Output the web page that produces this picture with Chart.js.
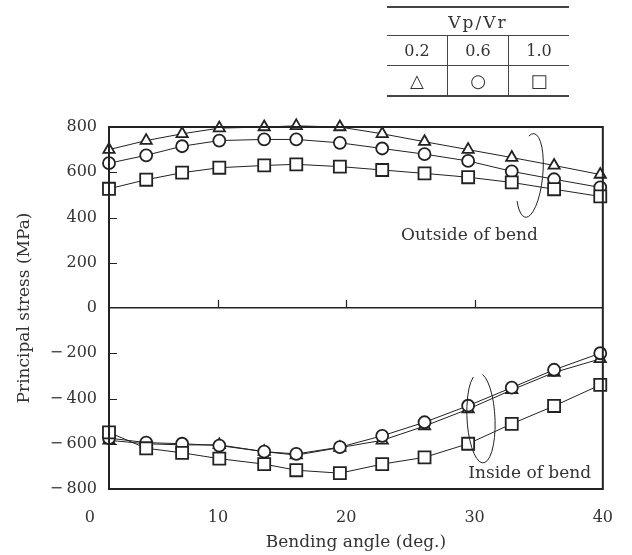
<!DOCTYPE html>
<html>
<head>
<meta charset="utf-8">
<script src="https://cdn.jsdelivr.net/npm/chart.js@4/dist/chart.umd.min.js"></script>
<style>
html,body{margin:0;padding:0;background:#fff;}
#wrap{position:relative;width:632px;height:555px;overflow:hidden;}
#c{position:absolute;left:0;top:0;}
table.leg{position:absolute;left:387px;top:6px;border-collapse:collapse;font-family:"DejaVu Serif",serif;font-size:16px;color:#333;border-top:2px solid #444;border-bottom:2px solid #444;}
table.leg th{font-weight:normal;height:27px;padding:0;border-bottom:1px solid #444;text-align:center;letter-spacing:2px;font-size:17px;}
table.leg td{width:60px;height:29px;padding:0;text-align:center;border-bottom:1px solid #444;}
table.leg td + td{border-left:1px solid #444;}
table.leg tr:last-child td{border-bottom:none;}
table.leg .sym{font-family:"DejaVu Sans",sans-serif;font-size:18px;line-height:1;}
</style>
</head>
<body>
<div id="wrap">
<canvas id="c" width="632" height="555"></canvas>
<table class="leg">
<tr><th colspan="3">Vp/Vr</th></tr>
<tr><td>0.2</td><td>0.6</td><td>1.0</td></tr>
<tr><td class="sym">△</td><td class="sym">○</td><td class="sym">□</td></tr>
</table>
</div>
<script>
// ---- data ----
const angles = [1.5, 4.4, 7.2, 10.1, 13.6, 16.1, 19.5, 22.8, 26.1, 29.5, 32.9, 36.2, 39.8];
// Outside of bend
const outside02 = [700, 740, 770, 795, 800, 805, 800, 770, 735, 700, 665, 630, 590];
const outside06 = [640, 675, 715, 740, 745, 745, 730, 705, 680, 650, 604, 569, 533];
const outside10 = [527, 567, 598, 620, 630, 635, 625, 610, 595, 578, 555, 525, 493];
// Inside of bend
const inside02 = [-585, -600, -605, -605, -635, -650, -617, -585, -522, -447, -362, -285, -225];
const inside06 = [-575, -595, -600, -608, -635, -645, -615, -565, -505, -432, -352, -273, -200];
const inside10 = [-550, -620, -640, -666, -690, -717, -730, -690, -660, -600, -512, -433, -340];
const xTicks = [0, 10, 20, 30, 40];
const yTicks = [-800, -600, -400, -200, 0, 200, 400, 600, 800];

const FONT = '"DejaVu Serif", serif';
const INK = '#222';
const TXT = '#333';

function pts(xs, ys) { return xs.map((x, i) => ({x: x, y: ys[i]})); }

const common = {
  borderColor: INK, borderWidth: 1, pointBackgroundColor: '#fff',
  pointBorderColor: INK, pointBorderWidth: 1.8, tension: 0, fill: false,
  pointHoverRadius: 0, clip: false
};
function ds(label, ys, style, r) {
  return Object.assign({label: label, data: pts(angles, ys), pointStyle: style, pointRadius: r}, common);
}

// annotation positions in data units
const notes = [
  {text: 'Outside of bend', x: 29.6, y: 319},
  {text: 'Inside of bend', x: 34.3, y: -730}
];
const rings = [
  {x: 34.3, y: 586, rx: 13, ry: 42, rot: 0.1, a0: -1.95, a1: 2.45},
  {x: 30.5, y: -486, rx: 14, ry: 45, rot: -0.05, a0: -1.3, a1: 4.3}
];

const decor = {
  id: 'decor',
  afterDatasetsDraw(chart) {
    const {ctx, chartArea: a, scales: {x, y}} = chart;
    ctx.save();
    ctx.strokeStyle = INK;
    // frame
    ctx.lineWidth = 2;
    ctx.strokeRect(a.left, a.top, a.right - a.left, a.bottom - a.top);
    // inward y ticks
    ctx.lineWidth = 1.2;
    ctx.beginPath();
    y.ticks.forEach(t => {
      if (t.value <= y.min || t.value >= y.max || t.value === 0) return;
      const py = Math.round(y.getPixelForValue(t.value)) + 0.5;
      ctx.moveTo(a.left, py); ctx.lineTo(a.left + 8, py);
    });
    // ticks on the zero line
    const y0 = y.getPixelForValue(0);
    x.ticks.forEach(t => {
      if (t.value <= x.min || t.value >= x.max) return;
      const px = Math.round(x.getPixelForValue(t.value)) + 0.5;
      ctx.moveTo(px, y0); ctx.lineTo(px, y0 - 8);
    });
    ctx.stroke();
    // rings
    ctx.lineWidth = 1;
    rings.forEach(r => {
      ctx.beginPath();
      ctx.ellipse(x.getPixelForValue(r.x), y.getPixelForValue(r.y), r.rx, r.ry, r.rot, r.a0, r.a1);
      ctx.stroke();
    });
    // notes
    ctx.fillStyle = TXT;
    ctx.font = '17px ' + FONT;
    ctx.textAlign = 'center';
    ctx.textBaseline = 'middle';
    notes.forEach(n => ctx.fillText(n.text, x.getPixelForValue(n.x), y.getPixelForValue(n.y)));
    ctx.restore();
  }
};

new Chart(document.getElementById('c'), {
  type: 'line',
  data: {
    datasets: [
      ds('Vp/Vr 1.0 outside', outside10, 'rect', 8.5),
      ds('Vp/Vr 1.0 inside', inside10, 'rect', 8.5),
      ds('Vp/Vr 0.6 outside', outside06, 'circle', 6),
      ds('Vp/Vr 0.6 inside', inside06, 'circle', 6),
      ds('Vp/Vr 0.2 outside', outside02, 'triangle', 6.5),
      ds('Vp/Vr 0.2 inside', inside02, 'triangle', 6.5)
    ]
  },
  options: {
    responsive: false,
    animation: false,
    events: [],
    layout: {padding: {top: 127, right: 27, left: 0, bottom: 0}},
    plugins: {legend: {display: false}, tooltip: {enabled: false}},
    scales: {
      x: {
        type: 'linear', min: 1.5, max: 40,
        afterBuildTicks: s => { s.ticks = xTicks.map(v => ({value: v})); },
        afterFit: s => { s.height = 66; },
        ticks: {autoSkip: false, maxRotation: 0, padding: 19, color: TXT, font: {family: FONT, size: 16}},
        grid: {display: false, drawTicks: false},
        border: {display: false},
        title: {display: true, text: 'Bending angle (deg.)', color: TXT, font: {family: FONT, size: 17}, padding: {top: 2, bottom: 2}}
      },
      y: {
        type: 'linear', min: -800, max: 800,
        afterBuildTicks: s => { s.ticks = yTicks.map(v => ({value: v})); },
        afterFit: s => { s.width = 109; },
        ticks: {
          padding: 12, color: TXT, font: {family: FONT, size: 16},
          callback: v => v < 0 ? '\u2212\u2009' + Math.abs(v) : String(v)
        },
        grid: {
          drawTicks: false, lineWidth: 1.5,
          color: c => (c.tick && c.tick.value === 0) ? INK : 'rgba(0,0,0,0)'
        },
        border: {display: false},
        title: {display: true, text: 'Principal stress (MPa)', color: TXT, font: {family: FONT, size: 17}, padding: {top: 14, bottom: 0}}
      }
    }
  },
  plugins: [decor]
});
</script>
</body>
</html>
